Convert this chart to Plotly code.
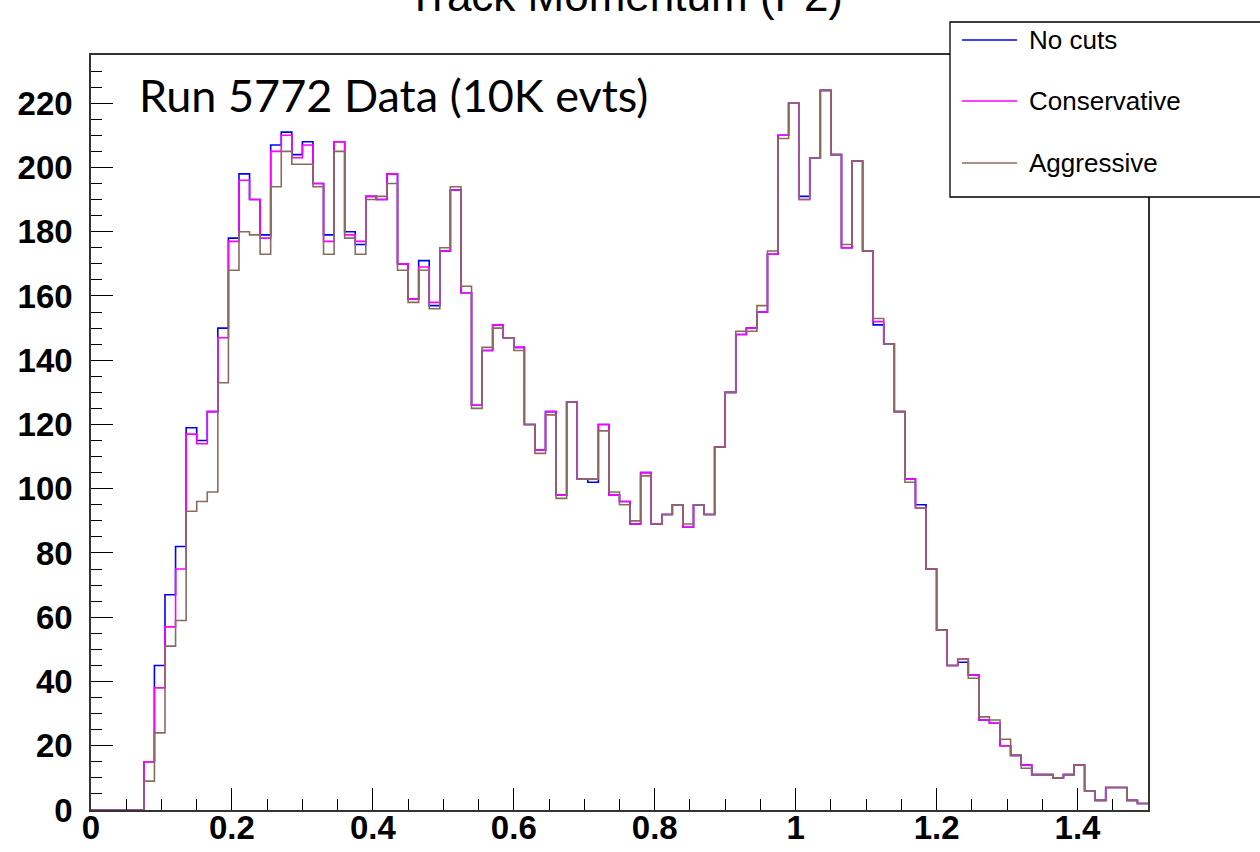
import numpy as np
import plotly.graph_objects as go

# ---------------- data ----------------
bin_lo = 0.0
bin_width = 0.015
n_bins = 100

no_cuts = [0, 0, 0, 0, 0, 15, 45, 67, 82, 119,
           115, 124, 150, 178, 198, 190, 179, 207, 211, 204,
           208, 195, 179, 208, 180, 176, 191, 190, 198, 170,
           159, 171, 157, 174, 193, 161, 126, 143, 151, 147,
           144, 120, 112, 124, 98, 127, 103, 102, 120, 98,
           96, 89, 105, 89, 92, 95, 88, 95, 92, 113,
           130, 148, 150, 155, 173, 210, 220, 191, 203, 224,
           204, 175, 202, 174, 151, 145, 124, 103, 95, 75,
           56, 45, 46, 42, 28, 27, 20, 17, 14, 11,
           11, 10, 11, 14, 6, 3, 7, 7, 3, 2]

conservative = [0, 0, 0, 0, 0, 15, 38, 57, 75, 117,
                114, 124, 147, 177, 196, 190, 178, 205, 210, 203,
                207, 195, 177, 208, 179, 177, 191, 190, 198, 170,
                159, 169, 158, 174, 193, 161, 126, 143, 151, 147,
                144, 120, 112, 124, 98, 127, 103, 103, 120, 98,
                96, 89, 105, 89, 92, 95, 88, 95, 92, 113,
                130, 148, 150, 155, 173, 210, 220, 190, 203, 224,
                204, 175, 202, 174, 152, 145, 124, 103, 94, 75,
                56, 45, 47, 42, 28, 27, 20, 17, 14, 11,
                11, 10, 11, 14, 6, 3, 7, 7, 3, 2]

aggressive = [0, 0, 0, 0, 0, 9, 24, 51, 59, 93,
              96, 99, 133, 168, 180, 179, 173, 194, 205, 201,
              201, 194, 173, 205, 178, 173, 190, 191, 195, 168,
              158, 168, 156, 175, 194, 163, 125, 144, 150, 147,
              143, 120, 111, 123, 97, 127, 103, 103, 118, 99,
              95, 90, 104, 89, 92, 95, 89, 95, 92, 113,
              130, 149, 149, 157, 174, 209, 220, 190, 203, 224,
              204, 176, 202, 174, 153, 145, 124, 102, 94, 75,
              56, 45, 47, 41, 29, 28, 22, 17, 13, 11,
              11, 10, 11, 14, 6, 3, 7, 7, 3, 2]

series_names = ["No cuts", "Conservative", "Aggressive"]
series_colors = ["#0000ff", "#ff00ff", "#8b6b5f"]
x_tick_vals = [0, 0.2, 0.4, 0.6, 0.8, 1.0, 1.2, 1.4]
x_tick_text = ["0", "0.2", "0.4", "0.6", "0.8", "1", "1.2", "1.4"]
y_tick_vals = list(range(0, 221, 20))
title_text = "Track Momentum (P2)"
info_text = "Run 5772 Data (10K evts)"

# ---------------- layout geometry ----------------
W, H = 1260, 852
L, R, T, B = 91, 112, 55, 42
PW, PH = W - L - R, H - T - B


def px2x(px):
    return (px - L) / PW


def py2y(py):
    return (H - B - py) / PH


edges = bin_lo + bin_width * np.arange(n_bins + 1)

fig = go.Figure()
for name, vals, col in zip(series_names, [no_cuts, conservative, aggressive], series_colors):
    yv = list(vals) + [vals[-1]]
    fig.add_trace(go.Scatter(
        x=edges, y=yv, mode="lines", name=name,
        line=dict(color=col, width=1.6, shape="hv"),
        showlegend=False, hoverinfo="skip"))

axis_common = dict(
    showline=True, mirror=True, linecolor="#333333", linewidth=1.5,
    showgrid=False, zeroline=False,
    ticks="inside", tickcolor="black", tickwidth=1.3, ticklen=22,
    tickfont=dict(family="Liberation Sans", size=33, color="black", weight="bold"),
)

fig.update_xaxes(range=[0, 1.5], tickmode="array", tickvals=x_tick_vals, ticktext=x_tick_text,
                 ticklabelstandoff=-12,
                 minor=dict(dtick=0.05, ticks="inside", ticklen=11, tickcolor="black", tickwidth=1.3, showgrid=False),
                 **axis_common)
fig.update_yaxes(range=[0, 235], tickmode="array", tickvals=y_tick_vals,
                 ticklabelstandoff=10,
                 minor=dict(dtick=5, ticks="inside", ticklen=11, tickcolor="black", tickwidth=1.3, showgrid=False),
                 **axis_common)

annotations = [
    dict(text=title_text, xref="paper", yref="paper", x=px2x(625), y=py2y(22),
         xanchor="center", yanchor="bottom", showarrow=False,
         font=dict(family="Liberation Sans", size=44, color="black")),
    dict(text=info_text, xref="paper", yref="paper", x=px2x(137), y=py2y(95),
         xanchor="left", yanchor="middle", showarrow=False,
         font=dict(family="Lato", size=45, color="black")),
]

shapes = [dict(type="rect", xref="paper", yref="paper",
               x0=px2x(950), x1=px2x(1275), y0=py2y(197), y1=py2y(22),
               line=dict(color="black", width=1.3), fillcolor="white", layer="above")]

legend_y = [40, 101, 163]
for name, col, ly in zip(series_names, series_colors, legend_y):
    shapes.append(dict(type="line", xref="paper", yref="paper",
                       x0=px2x(962), x1=px2x(1017), y0=py2y(ly), y1=py2y(ly),
                       line=dict(color=col, width=1.6), layer="above"))
    annotations.append(dict(text=name, xref="paper", yref="paper", x=px2x(1027), y=py2y(ly),
                            xanchor="left", yanchor="middle", showarrow=False,
                            font=dict(family="Liberation Sans", size=26, color="black")))

fig.update_layout(
    width=W, height=H,
    margin=dict(l=L, r=R, t=T, b=B, autoexpand=False),
    paper_bgcolor="white", plot_bgcolor="white",
    shapes=shapes, annotations=annotations,
    showlegend=False,
)

fig.write_html("out.html", config={"displayModeBar": False},
               post_script="document.body.style.margin='0px';document.body.style.padding='0px';document.body.style.overflow='hidden';")
